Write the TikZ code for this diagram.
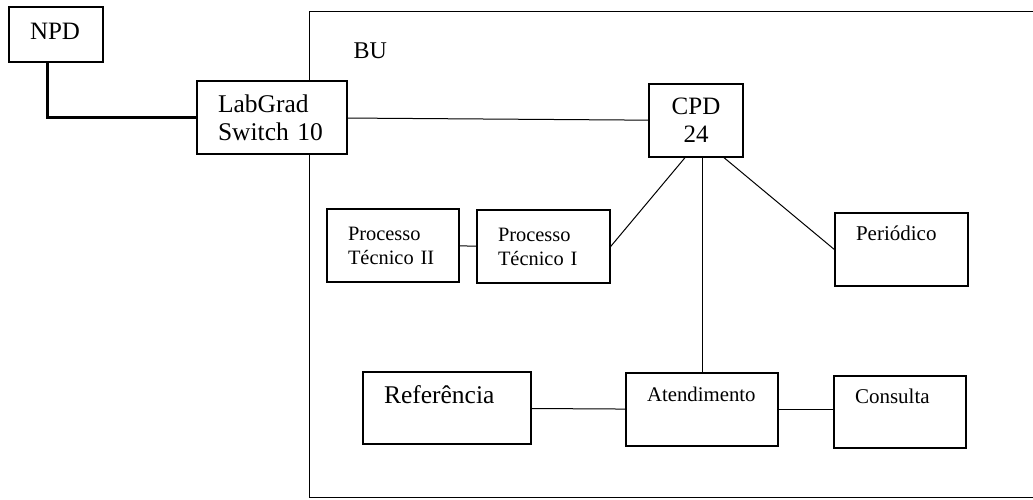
\documentclass[tikz,border=0pt]{standalone}
\usepackage{fontspec}
\setmainfont{Liberation Serif}
\tikzset{
    unit/.style={draw, fill=white, line width=1.3pt, inner xsep=21pt, inner ysep=0pt, align=left},
    link/.style={line width=1pt},
}
\newcommand{\fsz}[2]{\fontsize{#1}{#2}\selectfont}

\begin{document}
\begin{tikzpicture}[x=1pt, y=-1pt]
    \useasboundingbox (0, 0) rectangle (1033, 499);
    % BU frame, runs off the right edge
    \draw[line width=1pt] (1033, 11) -- (309, 11) -- (309, 497) -- (1033, 497);
    \node[anchor=base west, font=\fsz{24}{28}] (bu) at (350, 58) {BU};

    \node[unit, text width=52pt, text height=32pt, text depth=23pt, font=\fsz{25}{28}] (npd) at (56, 34.5) {NPD};
    \node[unit, text width=108pt, minimum height=73pt, font=\fsz{25.5}{28}] (labgrad) at (272, 117.5) {LabGrad\\Switch 10};
    \node[unit, text width=52pt, minimum height=73pt, align=center, font=\fsz{25}{28}] (cpd) at (696, 120.5) {CPD\\24};

    \node[unit, text width=90pt, minimum height=73pt, font=\fsz{20.4}{24}] (pt2) at (393, 245.5) {Processo\\Técnico II};
    \node[unit, text width=91pt, minimum height=73pt, font=\fsz{20.4}{24}] (pt1) at (543.5, 246.5) {Processo\\Técnico I};
    \node[unit, text width=91pt, text height=27pt, text depth=46pt, font=\fsz{21}{24}] (periodico) at (901.5, 249.5) {Periódico};

    \node[unit, text width=126pt, text height=31pt, text depth=41pt, font=\fsz{25.5}{28}] (ref) at (447, 408) {Referência};
    \node[unit, text width=110pt, text height=28pt, text depth=45pt, font=\fsz{20.8}{24}] (aten) at (702, 409.5) {Atendimento};
    \node[unit, text width=90pt, text height=27pt, text depth=45pt, font=\fsz{21}{24}] (consulta) at (900, 412) {Consulta};

    % connections
    \draw[line width=3pt] ([xshift=39pt]npd.south west) |- (labgrad.west);
    \draw[link] (labgrad) -- (cpd);
    \draw[link] (pt2) -- (pt1);
    \draw[link] ([xshift=-11pt]cpd.south) -- (pt1.east);
    \draw[link] (cpd.south -| aten.north) -- (aten.north);
    \draw[link] ([xshift=28pt]cpd.south) -- (periodico.west);
    \draw[link] (ref) -- (aten);
    \draw[link] (aten.east) -- (aten.east -| consulta.west);
\end{tikzpicture}
\end{document}
